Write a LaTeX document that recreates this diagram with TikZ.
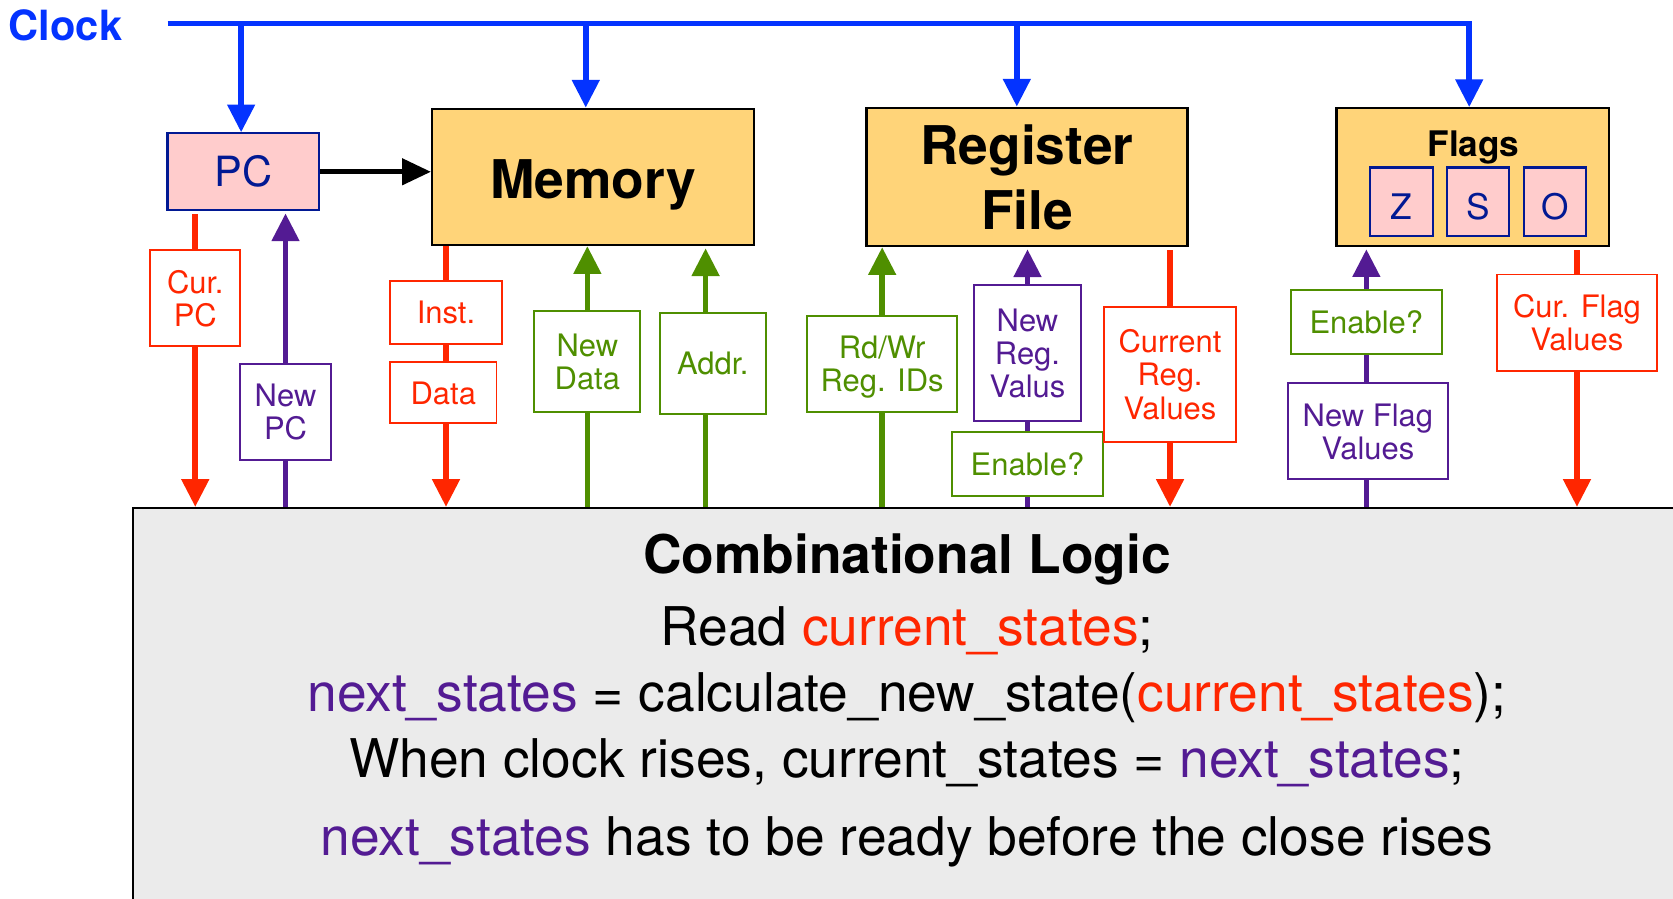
\documentclass[tikz,border=0pt]{standalone}
\usepackage{fontspec}
\setmainfont{TeX Gyre Heros}
\usetikzlibrary{arrows.meta,backgrounds}
\definecolor{kblue}{HTML}{0433FF}
\definecolor{kred}{HTML}{FF2600}
\definecolor{kpurple}{HTML}{531B93}
\definecolor{kgreen}{HTML}{4F8F00}
\definecolor{kyellow}{HTML}{FFD479}
\definecolor{kpink}{HTML}{FFCCCC}
\definecolor{knavy}{HTML}{011993}
\definecolor{kgray}{HTML}{EBEBEB}
\begin{document}
\begin{tikzpicture}[x=1pt,y=-1pt,
  wire/.style={line width=5.3pt},
  tri/.style={-{Triangle[width=25pt,length=26pt]}},
  lbl/.style={draw=#1, text=#1, fill=white, line width=1.8pt, inner sep=0pt,
    align=center, text depth=0pt, font=\fontsize{29}{31}\selectfont},
  mainbox/.style={draw=black, fill=kyellow, line width=2.2pt, inner sep=0pt,
    align=center, text depth=0pt, font=\fontsize{50}{60.6}\selectfont\bfseries},
  flagbit/.style={draw=knavy, fill=kpink, line width=2pt, inner sep=0pt,
    minimum width=58.3pt, minimum height=64pt, text=knavy,
    font=\fontsize{33}{40}\selectfont, text height=33pt, text depth=0pt},
  big/.style={font=\fontsize{50}{60}\selectfont, anchor=base, inner sep=0pt}
]
\useasboundingbox (0,0) rectangle (1568,842);
\clip (0,0) rectangle (1568,842);

% clock label
\node[font=\fontsize{39}{45}\selectfont\bfseries, text=kblue, anchor=base west, inner sep=0pt] (clock) at (8,37.5) {Clock};

% state elements
\node[draw=knavy, fill=kpink, line width=2pt, minimum width=142pt, minimum height=72pt,
  inner sep=0pt, text=knavy, font=\fontsize{39}{45}\selectfont, text height=28pt, text depth=0pt] (pc) at (228,161) {PC};
\node[mainbox, minimum width=301.5pt, minimum height=127.6pt, text height=40pt] (mem) at (555.8,165.8) {Memory};
\node[mainbox, minimum width=301pt, minimum height=129.5pt] (rf) at (962.5,165.8) {Register\\File};
\node[mainbox, minimum width=255.8pt, minimum height=129pt] (flags) at (1380.4,166) {};
\node[font=\fontsize{33}{40}\selectfont\bfseries, anchor=base, inner sep=0pt] (flagstxt) at (1381,146.8) {Flags};
\node[flagbit] (fz) at (1313.5,189) {Z};
\node[flagbit] (fs) at (1385.2,189) {S};
\node[flagbit] (fo) at (1457.2,189) {O};

% combinational logic
\node[draw=black, fill=kgray, line width=1.8pt, minimum width=1475pt, minimum height=394pt, inner sep=0pt] (logic) at (862.5,673) {};
\node[big, font=\fontsize{50}{60}\selectfont\bfseries] (title) at (850,537.4) {Combinational Logic};
\node[big] (l1) at (850,604.6) {Read \textcolor{kred}{current\_states};};
\node[big] (l2) at (850,666.4) {\textcolor{kpurple}{next\_states} = calculate\_new\_state(\textcolor{kred}{current\_states});};
\node[big] (l3) at (850,729) {When clock rises, current\_states = \textcolor{kpurple}{next\_states};};
\node[big] (l4) at (850,801.4) {\textcolor{kpurple}{next\_states} has to be ready before the close rises};

% signal labels
\node[lbl=kred, minimum width=84.7pt, minimum height=90pt] (curpc) at (183,279.3) {Cur.\\PC};
\node[lbl=kpurple, minimum width=84.7pt, minimum height=90pt] (newpc) at (267.6,386.2) {New\\PC};
\node[lbl=kred, minimum width=104.7pt, minimum height=59.4pt] (inst) at (418,292.7) {Inst.};
\node[lbl=kred, minimum width=99.7pt, minimum height=57.2pt] (data) at (415.5,368.2) {Data};
\node[lbl=kgreen, minimum width=99.5pt, minimum height=95pt] (newdata) at (550.5,338.7) {New\\Data};
\node[lbl=kgreen, minimum width=99.4pt, minimum height=94.7pt] (addr) at (668,340.4) {Addr.};
\node[lbl=kgreen, minimum width=140.3pt, minimum height=90pt] (rdwr) at (826.8,341.2) {Rd/Wr\\Reg. IDs};
\node[lbl=kpurple, minimum width=100pt, minimum height=127.1pt] (newreg) at (963,330.8) {New\\Reg.\\Valus};
\node[lbl=kgreen, minimum width=141.6pt, minimum height=59.4pt] (enreg) at (963,434.9) {Enable?};
\node[lbl=kred, minimum width=124.1pt, minimum height=126.8pt] (curreg) at (1096.6,350.9) {Current\\Reg.\\Values};
\node[lbl=kgreen, minimum width=141.6pt, minimum height=59.4pt] (enflag) at (1280.6,301.8) {Enable?};
\node[lbl=kpurple, minimum width=150pt, minimum height=90pt] (newflag) at (1282,404.3) {New Flag\\Values};
\node[lbl=kred, minimum width=150pt, minimum height=90.5pt] (curflag) at (1478,302.5) {Cur. Flag\\Values};

\coordinate (addrx) at (661.3,0);
\coordinate (ck0) at (157,22);
\coordinate (ck1) at (226,22);
\coordinate (ck2) at (549,22);
\coordinate (ck3) at (953,22);
\coordinate (ck4) at (1377,22);

\begin{pgfonlayer}{background}
  % clock distribution
  \draw[wire, kblue, line join=miter, tri] (ck0) -- (ck4) -- (ck4 |- flags.north);
  \draw[wire, kblue, tri] (ck1) -- (ck1 |- pc.north);
  \draw[wire, kblue, tri] (ck2) -- (ck2 |- mem.north);
  \draw[wire, kblue, tri] (ck3) -- (ck3 |- rf.north);
  % PC to memory
  \draw[line width=5pt, -{Triangle[width=24pt,length=27pt]}] (pc.east) -- (mem.west |- pc.east);
  % PC signals
  \draw[wire, kred, tri, shorten <=3pt] (curpc |- pc.south) -- (curpc |- logic.north);
  \draw[wire, kpurple, tri, shorten >=2pt] (newpc |- logic.north) -- (newpc |- pc.south);
  % memory signals
  \draw[wire, kred, tri] (inst |- mem.south) -- (inst |- logic.north);
  \draw[wire, kgreen, tri] (newdata |- logic.north) -- (newdata |- mem.south);
  \draw[wire, kgreen, tri, shorten >=2pt] (addrx |- logic.north) -- (addrx |- mem.south);
  % register file signals
  \draw[wire, kgreen, tri] (rdwr |- logic.north) -- (rdwr |- rf.south);
  \draw[wire, kpurple, tri, shorten >=2pt] (newreg |- logic.north) -- (newreg |- rf.south);
  \draw[wire, kred, tri, shorten <=3pt] (curreg |- rf.south) -- (curreg |- logic.north);
  % flag signals
  \draw[wire, kpurple, tri, shorten >=2pt] (enflag |- logic.north) -- (enflag |- flags.south);
  \draw[wire, kred, tri, shorten <=3pt] (curflag |- flags.south) -- (curflag |- logic.north);
\end{pgfonlayer}
\end{tikzpicture}
\end{document}
